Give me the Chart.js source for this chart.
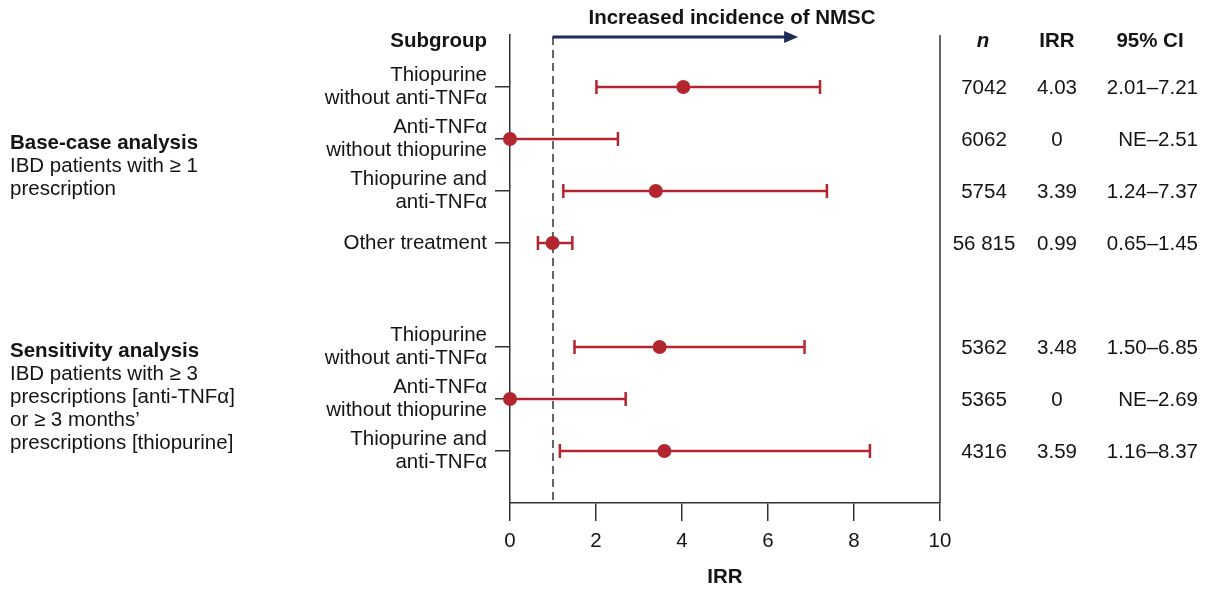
<!DOCTYPE html>
<html>
<head>
<meta charset="utf-8">
<script src="https://cdn.jsdelivr.net/npm/chart.js@4/dist/chart.umd.min.js"></script>
<style>
  html, body { margin: 0; padding: 0; background: #fff; }
  canvas { display: block; }
</style>
</head>
<body>
<canvas id="forest" width="1208" height="596"></canvas>
<script>
// Rows of the forest plot (row 5 stays empty as a spacer between the two analyses)
const rowPositions = [1, 2, 3, 4, 6, 7, 8];
const subgroupLabels = [
  ['Thiopurine', 'without anti-TNFα'],
  ['Anti-TNFα', 'without thiopurine'],
  ['Thiopurine and', 'anti-TNFα'],
  ['Other treatment'],
  ['Thiopurine', 'without anti-TNFα'],
  ['Anti-TNFα', 'without thiopurine'],
  ['Thiopurine and', 'anti-TNFα']
];
const irrValues = [4.03, 0, 3.39, 0.99, 3.48, 0, 3.59];
const ciLower = [2.01, null, 1.24, 0.65, 1.50, null, 1.16]; // null = NE (not estimable)
const ciUpper = [7.21, 2.51, 7.37, 1.45, 6.85, 2.69, 8.37];
const nPatients = ['7042', '6062', '5754', '56 815', '5362', '5365', '4316'];
const irrText = ['4.03', '0', '3.39', '0.99', '3.48', '0', '3.59'];
const ciText = ['2.01–7.21', 'NE–2.51', '1.24–7.37', '0.65–1.45', '1.50–6.85', 'NE–2.69', '1.16–8.37'];
const xTicks = [0, 2, 4, 6, 8, 10];
const refValue = 1;     // IRR = 1 reference line
const arrowEnd = 6.7;   // where the "increased incidence" arrow stops

const groups = [
  { row: 2, lines: ['Base-case analysis', 'IBD patients with ≥ 1', 'prescription'] },
  { row: 6, lines: ['Sensitivity analysis', 'IBD patients with ≥ 3', 'prescriptions [anti-TNFα]', 'or ≥ 3 months’', 'prescriptions [thiopurine]'] }
];

const FONT = '"Liberation Sans", Arial, Helvetica, sans-serif';
const FS = 20.5;
const TEXT = '#141414';
const AXIS = '#333333';
const RED = '#b3262f';
const NAVY = '#1c2d5a';

const forestPlugin = {
  id: 'forest',
  beforeDatasetsDraw(chart) {
    const ctx = chart.ctx;
    const area = chart.chartArea;
    const xs = chart.scales.x;
    const ys = chart.scales.y;
    ctx.save();

    // right frame line
    ctx.strokeStyle = AXIS;
    ctx.lineWidth = 1.5;
    ctx.beginPath();
    ctx.moveTo(area.right, area.top);
    ctx.lineTo(area.right, area.bottom);
    ctx.stroke();

    // dashed reference line at IRR = 1
    const xr = xs.getPixelForValue(refValue);
    ctx.setLineDash([8, 5]);
    ctx.beginPath();
    ctx.moveTo(xr, area.top + 2);
    ctx.lineTo(xr, area.bottom);
    ctx.stroke();
    ctx.setLineDash([]);

    // arrow
    const xa = xs.getPixelForValue(arrowEnd);
    const ya = area.top + 2;
    ctx.strokeStyle = NAVY;
    ctx.fillStyle = NAVY;
    ctx.lineWidth = 3;
    ctx.beginPath();
    ctx.moveTo(xr - 0.5, ya);
    ctx.lineTo(xa - 10, ya);
    ctx.stroke();
    ctx.beginPath();
    ctx.moveTo(xa, ya);
    ctx.lineTo(xa - 14, ya - 6);
    ctx.lineTo(xa - 14, ya + 6);
    ctx.closePath();
    ctx.fill();

    // confidence intervals
    ctx.strokeStyle = RED;
    ctx.lineWidth = 2.5;
    rowPositions.forEach((r, i) => {
      const y = ys.getPixelForValue(r);
      const lo = xs.getPixelForValue(ciLower[i] === null ? xs.min : ciLower[i]);
      const hi = xs.getPixelForValue(ciUpper[i]);
      ctx.beginPath();
      ctx.moveTo(lo, y);
      ctx.lineTo(hi, y);
      ctx.moveTo(hi, y - 7);
      ctx.lineTo(hi, y + 7);
      if (ciLower[i] !== null) {
        ctx.moveTo(lo, y - 7);
        ctx.lineTo(lo, y + 7);
      }
      ctx.stroke();
    });
    ctx.restore();
  },
  afterDraw(chart) {
    const ctx = chart.ctx;
    const ys = chart.scales.y;
    const bold = 'bold ' + FS + 'px ' + FONT;
    const normal = FS + 'px ' + FONT;
    ctx.save();
    ctx.fillStyle = TEXT;
    ctx.textBaseline = 'middle';

    ctx.font = bold;
    ctx.textAlign = 'center';
    ctx.fillText('Increased incidence of NMSC', 732, 18);

    // column headers
    ctx.textAlign = 'right';
    ctx.fillText('Subgroup', 487, 41);
    ctx.textAlign = 'center';
    ctx.fillText('IRR', 1057, 41);
    ctx.fillText('95% CI', 1150, 41);
    ctx.font = 'italic ' + bold;
    ctx.fillText('n', 983, 41);

    // table values
    ctx.font = normal;
    rowPositions.forEach((r, i) => {
      const y = ys.getPixelForValue(r) + 1;
      ctx.textAlign = 'center';
      ctx.fillText(nPatients[i], 984, y);
      ctx.fillText(irrText[i], 1057, y);
      ctx.textAlign = 'right';
      ctx.fillText(ciText[i], 1198, y);
    });

    // analysis group labels
    ctx.textAlign = 'left';
    groups.forEach(g => {
      const y0 = ys.getPixelForValue(g.row) + 4;
      g.lines.forEach((line, k) => {
        ctx.font = k === 0 ? bold : normal;
        ctx.fillText(line, 10, y0 + k * 23);
      });
    });
    ctx.restore();
  }
};

new Chart(document.getElementById('forest'), {
  type: 'scatter',
  data: {
    datasets: [{
      data: rowPositions.map((r, i) => ({ x: irrValues[i], y: r })),
      pointRadius: 7,
      pointBackgroundColor: RED,
      pointBorderWidth: 0,
      clip: false
    }]
  },
  options: {
    responsive: false,
    animation: false,
    events: [],
    layout: { padding: { left: 0, right: 268, top: 35, bottom: 0 } },
    plugins: { legend: { display: false }, tooltip: { enabled: false } },
    scales: {
      x: {
        type: 'linear',
        min: 0,
        max: 10,
        afterBuildTicks: s => { s.ticks = xTicks.map(v => ({ value: v })); },
        afterFit: s => { s.height = 93; },
        ticks: { color: TEXT, font: { family: FONT, size: FS }, padding: 8, maxRotation: 0, autoSkip: false },
        grid: { drawOnChartArea: false, tickLength: 18, color: AXIS, lineWidth: 1.5 },
        border: { color: AXIS, width: 1.5 },
        title: { display: true, text: 'IRR', color: TEXT, font: { family: FONT, size: FS, weight: 'bold' }, padding: { top: 0, bottom: 6 } }
      },
      y: {
        type: 'linear',
        reverse: true,
        min: 0,
        max: 9,
        afterBuildTicks: s => { s.ticks = rowPositions.map(v => ({ value: v })); },
        afterFit: s => { s.width = 510; },
        ticks: {
          autoSkip: false,
          color: TEXT,
          padding: 8,
          font: { family: FONT, size: FS, lineHeight: 1.1 },
          callback: v => subgroupLabels[rowPositions.indexOf(v)]
        },
        grid: { drawOnChartArea: false, tickLength: 15, color: AXIS, lineWidth: 1.5 },
        border: { color: AXIS, width: 1.5 }
      }
    }
  },
  plugins: [forestPlugin]
});
</script>
</body>
</html>
